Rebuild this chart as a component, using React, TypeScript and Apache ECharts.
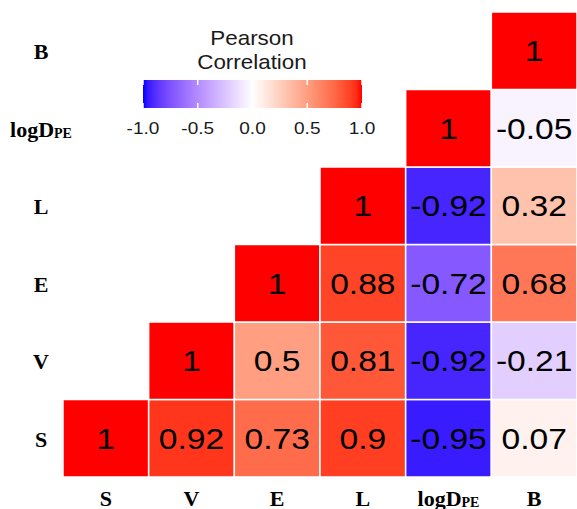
import React, { useEffect, useRef } from "react";
import * as echarts from "echarts";

// Variable names, in axis order (left to right, bottom to top)
const variables = ["S", "V", "E", "L", "logDPE", "B"];

// Lower-triangle correlations; each row starts at its own diagonal cell
const rowS = [1, 0.92, 0.73, 0.9, -0.95, 0.07];
const rowV = [1, 0.5, 0.81, -0.92, -0.21];
const rowE = [1, 0.88, -0.72, 0.68];
const rowL = [1, -0.92, 0.32];
const rowLogD = [1, -0.05];
const rowB = [1];

const legendTicks = [-1, -0.5, 0, 0.5, 1];
const legendTickLabels = ["-1.0", "-0.5", "0.0", "0.5", "1.0"];

// Diverging blue-white-red palette interpolated in CIE Lab space
const LAB_WHITE = [100, 0, 0];
const LAB_RED = [53.24, 80.09, 67.2];
const LAB_BLUE = [32.3, 79.19, -107.86];

function labToHex(L: number, a: number, b: number): string {
  const fy = (L + 16) / 116;
  const fx = fy + a / 500;
  const fz = fy - b / 200;
  const d = 6 / 29;
  const finv = (t: number) => (t > d ? t * t * t : 3 * d * d * (t - 4 / 29));
  const X = 0.95047 * finv(fx);
  const Y = finv(fy);
  const Z = 1.08883 * finv(fz);
  const lin = [
    3.2406 * X - 1.5372 * Y - 0.4986 * Z,
    -0.9689 * X + 1.8758 * Y + 0.0415 * Z,
    0.0557 * X - 0.204 * Y + 1.057 * Z,
  ];
  return (
    "#" +
    lin
      .map((c) => {
        const v = Math.min(1, Math.max(0, c));
        const s = v <= 0.0031308 ? 12.92 * v : 1.055 * Math.pow(v, 1 / 2.4) - 0.055;
        return Math.round(s * 255).toString(16).padStart(2, "0");
      })
      .join("")
  );
}

function correlationColor(v: number): string {
  const end = v < 0 ? LAB_BLUE : LAB_RED;
  const t = Math.abs(v);
  return labToHex(
    LAB_WHITE[0] + (end[0] - LAB_WHITE[0]) * t,
    LAB_WHITE[1] + (end[1] - LAB_WHITE[1]) * t,
    LAB_WHITE[2] + (end[2] - LAB_WHITE[2]) * t
  );
}

const STOP_COUNT = 41;
const paletteStops = Array.from({ length: STOP_COUNT }, (_, i) => -1 + (2 * i) / (STOP_COUNT - 1));
const paletteColors = paletteStops.map(correlationColor);

function buildCells(): [number, number, number][] {
  const rows = [rowS, rowV, rowE, rowL, rowLogD, rowB];
  const cells: [number, number, number][] = [];
  rows.forEach((row, r) => {
    row.forEach((v, j) => cells.push([r + j, r, v]));
  });
  return cells;
}

const axisFont = {
  fontFamily: "Liberation Serif",
  fontWeight: "bold" as const,
  fontSize: 22,
  color: "#000",
};

const nameFormatter = (name: string) =>
  name === "logDPE" ? "{b|logD}{s|PE}" : "{b|" + name + "}";

const richNames = {
  b: { ...axisFont, verticalAlign: "bottom" as const, lineHeight: 24 },
  s: { ...axisFont, fontSize: 14, verticalAlign: "bottom" as const, lineHeight: 24 },
};

// Texts in this figure are drawn slightly wider than their nominal font
const TEXT_STRETCH = 1.12;

export default function App() {
  const ref = useRef<HTMLDivElement>(null);

  useEffect(() => {
    if (!ref.current) return;
    const chart = echarts.init(ref.current, null, { renderer: "svg" });

    // Colour bar geometry for the legend
    const barX = 143;
    const barY = 80;
    const barW = 219;
    const barH = 28;
    const tickX = (v: number) => barX + ((v + 1) / 2) * barW;

    const legendChildren: any[] = [
      {
        type: "text",
        x: 252,
        y: 50,
        scaleX: TEXT_STRETCH,
        style: {
          text: "Pearson\nCorrelation",
          fontFamily: "Liberation Sans",
          fontSize: 20,
          lineHeight: 24,
          fill: "#1a1a1a",
          align: "center",
          verticalAlign: "middle",
        },
      },
      {
        type: "rect",
        shape: { x: barX, y: barY, width: barW, height: barH },
        style: {
          fill: new echarts.graphic.LinearGradient(
            0,
            0,
            1,
            0,
            paletteStops.map((s, i) => ({ offset: (s + 1) / 2, color: paletteColors[i] }))
          ),
        },
      },
    ];
    legendTicks.forEach((t, i) => {
      const x = tickX(t);
      legendChildren.push(
        {
          type: "line",
          shape: { x1: x, y1: barY, x2: x, y2: barY + 5 },
          style: { stroke: "#fff", lineWidth: 1.5 },
        },
        {
          type: "line",
          shape: { x1: x, y1: barY + barH - 5, x2: x, y2: barY + barH },
          style: { stroke: "#fff", lineWidth: 1.5 },
        },
        {
          type: "text",
          x,
          y: 128,
          scaleX: TEXT_STRETCH,
          style: {
            text: legendTickLabels[i],
            fontFamily: "Liberation Sans",
            fontSize: 17,
            fill: "#1a1a1a",
            align: "center",
            verticalAlign: "middle",
          },
        }
      );
    });

    chart.setOption({
      animation: false,
      backgroundColor: "#fff",
      grid: { left: 63, right: 0, top: 12, bottom: 31 },
      xAxis: {
        type: "category",
        data: variables,
        axisLine: { show: false },
        axisTick: { show: false },
        splitLine: { show: false },
        axisLabel: { interval: 0, margin: 8, formatter: nameFormatter, rich: richNames },
      },
      yAxis: {
        type: "category",
        data: variables,
        axisLine: { show: false },
        axisTick: { show: false },
        splitLine: { show: false },
        axisLabel: {
          interval: 0,
          margin: 22,
          align: "center",
          formatter: nameFormatter,
          rich: richNames,
        },
      },
      visualMap: {
        type: "continuous",
        show: false,
        min: -1,
        max: 1,
        dimension: 2,
        seriesIndex: 0,
        inRange: { color: paletteColors },
      },
      series: [
        {
          type: "custom",
          coordinateSystem: "cartesian2d",
          data: buildCells(),
          encode: { x: 0, y: 1 },
          renderItem: (_params: any, api: any) => {
            const center = api.coord([api.value(0), api.value(1)]);
            const size = api.size([1, 1]);
            const value = api.value(2);
            return {
              type: "group",
              children: [
                {
                  type: "rect",
                  shape: {
                    x: center[0] - size[0] / 2,
                    y: center[1] - size[1] / 2,
                    width: size[0],
                    height: size[1],
                  },
                  style: { fill: api.visual("color"), stroke: "#fff", lineWidth: 1.5 },
                },
                {
                  type: "text",
                  x: center[0],
                  y: center[1],
                  scaleX: TEXT_STRETCH,
                  style: {
                    text: String(value),
                    fontFamily: "Liberation Sans",
                    fontSize: 30,
                    fill: "#000",
                    align: "center",
                    verticalAlign: "middle",
                  },
                },
              ],
            };
          },
        },
      ],
      graphic: [{ type: "group", children: legendChildren }],
    });

    return () => chart.dispose();
  }, []);

  return (
    <div
      ref={ref}
      style={{ position: "fixed", left: 0, top: 0, width: 577, height: 509 }}
    />
  );
}
